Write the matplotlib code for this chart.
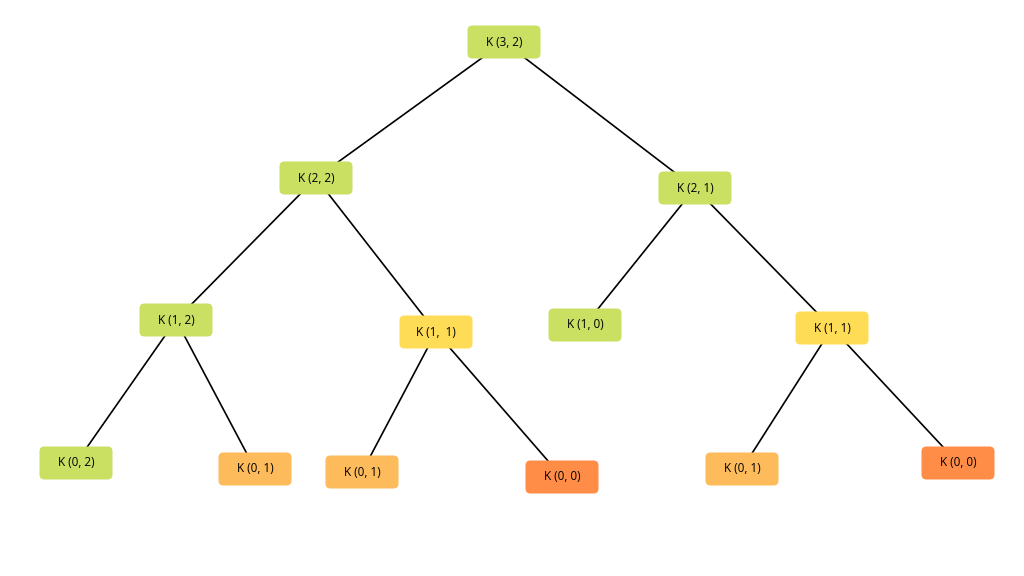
import matplotlib.pyplot as plt
from matplotlib.patches import FancyBboxPatch

labels = ["K (3, 2)", "K (2, 2)", "K (2, 1)", "K (1, 2)", "K (1,  1)", "K (1, 0)",
          "K (1, 1)", "K (0, 2)", "K (0, 1)", "K (0, 1)", "K (0, 0)", "K (0, 1)", "K (0, 0)"]
kinds = ["g", "g", "g", "g", "y", "g", "y", "g", "o", "o", "r", "o", "r"]
parents = [None, 0, 0, 1, 1, 2, 2, 3, 3, 4, 4, 6, 6]

# layout (pixel positions of node centres)
xs = [504, 316, 695, 176, 436, 585, 832, 76, 255, 362, 562, 742, 958]
ys = [42, 178, 188, 320, 332, 325, 328, 463, 469, 472, 477, 469, 463]

colors = {"g": "#C9E063", "y": "#FFDC55", "o": "#FDBB5B", "r": "#FF8D47"}

fig = plt.figure(figsize=(10.24, 5.76), dpi=100)
ax = fig.add_axes([0, 0, 1, 1])
ax.set_xlim(0, 1024)
ax.set_ylim(576, 0)
ax.axis("off")

for i, p in enumerate(parents):
    if p is not None:
        ax.plot([xs[p], xs[i]], [ys[p], ys[i]], color="black", lw=1.2, zorder=1)

w, h = 66, 26
for lab, k, x, y in zip(labels, kinds, xs, ys):
    box = FancyBboxPatch((x - w / 2, y - h / 2), w, h,
                         boxstyle="round,pad=3.5,rounding_size=5",
                         fc=colors[k], ec="none", zorder=2)
    ax.add_patch(box)
    ax.text(x, y, lab, ha="center", va="center", fontsize=8.5,
            family="Open Sans", zorder=3)

fig.savefig("out.png", dpi=100)
